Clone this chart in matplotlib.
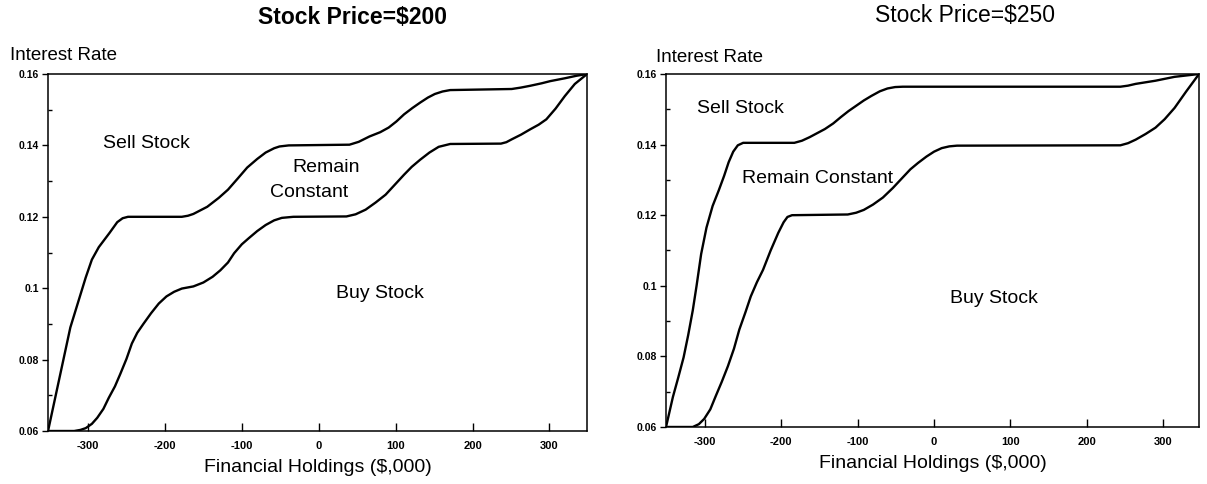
import numpy as np
import matplotlib.pyplot as plt
from matplotlib.ticker import MultipleLocator, FuncFormatter

plt.rcParams['font.family'] = ['Liberation Sans', 'DejaVu Sans']
plt.rcParams['axes.unicode_minus'] = False

# ---- Stock price $200 ----
x_sell_200 = [-352, -335, -323, -313, -303, -295, -286, -272, -262, -255, -248, -178, -170, -163,
              -145, -130, -118, -105, -93, -80, -69, -58, -51, -39, 40, 52, 66, 80, 91, 101, 111,
              122, 132, 142, 151, 161, 171, 251, 263, 275, 290, 301, 320, 335, 349]
y_sell_200 = [0.060, 0.077, 0.089, 0.096, 0.103, 0.108, 0.1115, 0.1155, 0.1185, 0.1196, 0.1200,
              0.1200, 0.1203, 0.1208, 0.1228, 0.1253, 0.1276, 0.1308, 0.1338, 0.1362, 0.1380,
              0.1392, 0.1397, 0.1400, 0.1402, 0.1410, 0.1425, 0.1437, 0.1450, 0.1467, 0.1487,
              0.1505, 0.1520, 0.1534, 0.1544, 0.1551, 0.1555, 0.1558, 0.1562, 0.1567, 0.1574,
              0.1580, 0.1588, 0.1595, 0.160]
x_buy_200 = [-352, -318, -310, -303, -295, -288, -280, -273, -265, -258, -250, -243, -236, -228,
             -218, -208, -198, -188, -178, -163, -150, -138, -128, -118, -110, -100, -91, -80,
             -69, -58, -48, -33, 36, 48, 61, 74, 87, 99, 111, 121, 132, 144, 156, 171, 237, 244,
             251, 263, 275, 286, 296, 308, 320, 333, 349]
y_buy_200 = [0.060, 0.060, 0.0603, 0.0608, 0.0620, 0.0637, 0.0662, 0.0693, 0.0725, 0.0760, 0.0802,
             0.0845, 0.0875, 0.0900, 0.0930, 0.0957, 0.0977, 0.0990, 0.0999, 0.1005, 0.1016,
             0.1032, 0.1050, 0.1072, 0.1098, 0.1123, 0.1140, 0.1160, 0.1177, 0.1190, 0.1197,
             0.1200, 0.1201, 0.1207, 0.1220, 0.1240, 0.1262, 0.1290, 0.1318, 0.1340, 0.1360,
             0.1380, 0.1396, 0.1404, 0.1405, 0.1409, 0.1417, 0.1430, 0.1445, 0.1458, 0.1473,
             0.1503, 0.1538, 0.1572, 0.160]

# ---- Stock price $250 ----
x_sell_250 = [-351, -342, -335, -328, -322, -316, -311, -305, -298, -290, -282, -275, -269, -263,
              -257, -250, -183, -173, -163, -143, -132, -122, -112, -102, -92, -82, -71, -61, -51,
              -41, 244, 254, 264, 290, 315, 347]
y_sell_250 = [0.060, 0.0685, 0.0740, 0.0797, 0.0860, 0.0930, 0.1000, 0.1090, 0.1165, 0.1226,
              0.1270, 0.1311, 0.1350, 0.1380, 0.1398, 0.1405, 0.1405, 0.1411, 0.1421, 0.1444,
              0.1460, 0.1478, 0.1495, 0.1510, 0.1525, 0.1538, 0.1551, 0.1559, 0.1563, 0.1564,
              0.1564, 0.1567, 0.1572, 0.1581, 0.1592, 0.160]
x_buy_250 = [-351, -316, -308, -301, -293, -286, -278, -270, -262, -255, -247, -240, -232, -224,
             -214, -204, -197, -192, -186, -113, -102, -92, -80, -67, -54, -41, -31, -21, -10, 0,
             10, 20, 30, 244, 254, 264, 277, 290, 302, 315, 330, 347]
y_buy_250 = [0.060, 0.060, 0.0608, 0.0623, 0.0650, 0.0687, 0.0728, 0.0772, 0.0822, 0.0876, 0.0925,
             0.0970, 0.1010, 0.1045, 0.1100, 0.1150, 0.1180, 0.1195, 0.1200, 0.1202, 0.1207,
             0.1215, 0.1230, 0.1250, 0.1277, 0.1307, 0.1330, 0.1348, 0.1366, 0.1380, 0.1390,
             0.1395, 0.1397, 0.1398, 0.1404, 0.1414, 0.1430, 0.1448, 0.1472, 0.1504, 0.1550,
             0.160]

x_ticks = [-300, -200, -100, 0, 100, 200, 300]
y_ticks = [0.06, 0.08, 0.10, 0.12, 0.14, 0.16]

fig = plt.figure(figsize=(12.07, 4.84), dpi=100)
ax1 = fig.add_axes([0.0398, 0.1095, 0.4466, 0.7376])
ax2 = fig.add_axes([0.5518, 0.1178, 0.4416, 0.7293])


def style_axes(ax, xlim):
    ax.set_xlim(*xlim)
    ax.set_ylim(0.06, 0.16)
    ax.set_xticks(x_ticks)
    ax.set_yticks(y_ticks)
    ax.yaxis.set_minor_locator(MultipleLocator(0.01))
    ax.yaxis.set_major_formatter(FuncFormatter(lambda v, p: '%g' % round(v, 2)))
    ax.tick_params(axis='x', direction='in', length=6, width=1, pad=7, labelsize=8)
    ax.tick_params(axis='y', which='major', direction='out', length=4.5, width=1, pad=2,
                   labelsize=7.5)
    ax.tick_params(axis='y', which='minor', direction='in', length=3, width=1)
    for lbl in ax.get_xticklabels() + ax.get_yticklabels():
        lbl.set_fontweight('bold')
    for sp in ax.spines.values():
        sp.set_linewidth(1.1)
    ax.set_xlabel('Financial Holdings ($,000)', fontsize=14, labelpad=6)


def draw(ax, x, y):
    ax.plot(x, y, color='black', lw=1.7, solid_joinstyle='round', solid_capstyle='round')


draw(ax1, x_sell_200, y_sell_200)
draw(ax1, x_buy_200, y_buy_200)
style_axes(ax1, (-352, 349))
ax1.text(-224, 0.1406, 'Sell Stock', fontsize=14, ha='center', va='center')
ax1.text(10, 0.1339, 'Remain', fontsize=14, ha='center', va='center')
ax1.text(-12, 0.1269, 'Constant', fontsize=14, ha='center', va='center')
ax1.text(80, 0.0984, 'Buy Stock', fontsize=14, ha='center', va='center')

draw(ax2, x_sell_250, y_sell_250)
draw(ax2, x_buy_250, y_buy_250)
style_axes(ax2, (-351, 347))
ax2.text(-253, 0.1503, 'Sell Stock', fontsize=14, ha='center', va='center')
ax2.text(-152, 0.1305, 'Remain Constant', fontsize=14, ha='center', va='center')
ax2.text(78, 0.0963, 'Buy Stock', fontsize=14, ha='center', va='center')

fig.text(352 / 1207, 1 - 18 / 484, 'Stock Price=$200', fontsize=16.5, fontweight='bold',
         ha='center', va='center')
fig.text(965 / 1207, 1 - 15 / 484, 'Stock Price=$250', fontsize=16.5, ha='center', va='center')
fig.text(10 / 1207, 1 - 56 / 484, 'Interest Rate', fontsize=13.5, ha='left', va='center')
fig.text(656 / 1207, 1 - 57 / 484, 'Interest Rate', fontsize=13.5, ha='left', va='center')

fig.savefig('out.png', dpi=100)
